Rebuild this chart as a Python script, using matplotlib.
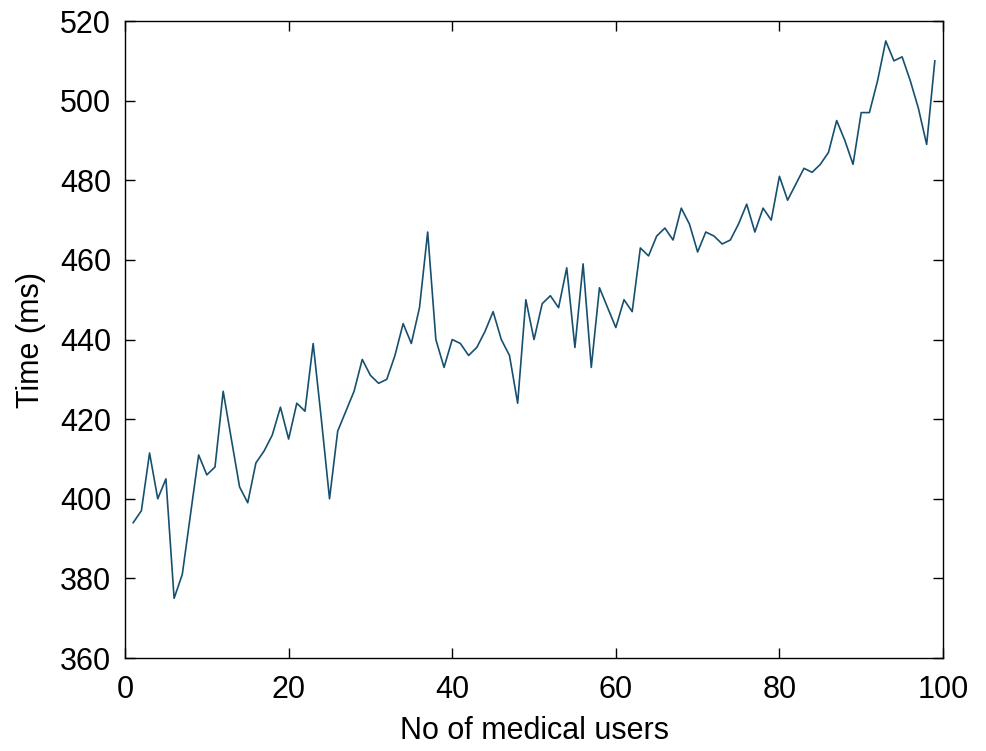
import matplotlib
matplotlib.use("Agg")
import matplotlib.pyplot as plt

users = list(range(1, 100))
time_ms = [394, 397, 411.5, 400, 405, 375, 381, 396, 411, 406,
           408, 427, 415, 403, 399, 409, 412, 416, 423, 415,
           424, 422, 439, 420, 400, 417, 422, 427, 435, 431,
           429, 430, 436, 444, 439, 448, 467, 440, 433, 440,
           439, 436, 438, 442, 447, 440, 436, 424, 450, 440,
           449, 451, 448, 458, 438, 459, 433, 453, 448, 443,
           450, 447, 463, 461, 466, 468, 465, 473, 469, 462,
           467, 466, 464, 465, 469, 474, 467, 473, 470, 481,
           475, 479, 483, 482, 484, 487, 495, 490, 484, 497,
           497, 505, 515, 510, 511, 505, 498, 489, 510]

x_ticks = [0, 20, 40, 60, 80, 100]
y_ticks = [360, 380, 400, 420, 440, 460, 480, 500, 520]

plt.rcParams['font.family'] = ['Liberation Sans', 'DejaVu Sans']

fig = plt.figure(figsize=(9.86, 7.51), dpi=100)
ax = fig.add_axes([0.1268, 0.1238, 0.8296, 0.8482])

ax.plot(users, time_ms, color='#17506f', linewidth=1.2)

ax.set_xlim(0, 100)
ax.set_ylim(360, 520)
ax.set_xticks(x_ticks)
ax.set_yticks(y_ticks)
ax.tick_params(direction='in', length=7, width=1, top=True, right=True,
               labelsize=22)
ax.tick_params(axis='x', pad=12)
ax.tick_params(axis='y', pad=10)
for s in ax.spines.values():
    s.set_linewidth(1)

ax.set_xlabel('No of medical users', fontsize=22, labelpad=8)
ax.set_ylabel('Time (ms)', fontsize=22, labelpad=10)

fig.savefig('out.png', dpi=100)
